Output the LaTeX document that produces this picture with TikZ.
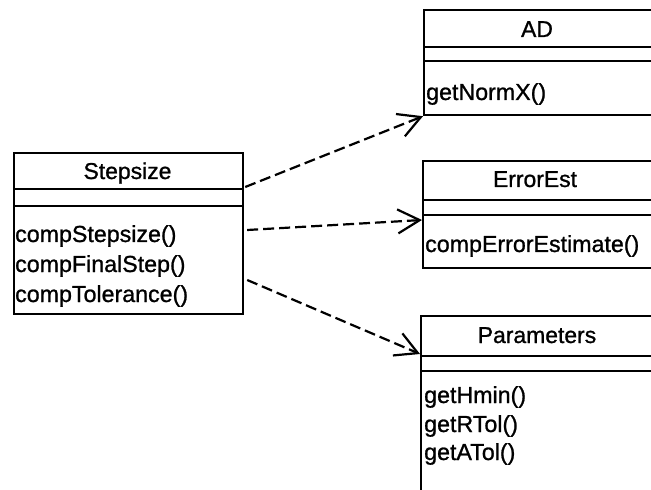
\documentclass[tikz,border=0pt]{standalone}
\usepackage{fontspec}
\setmainfont{Liberation Sans}[FakeBold=1.0]
\usetikzlibrary{arrows.meta,calc}
\begin{document}
\begin{tikzpicture}[x=1bp,y=-1bp,
  classbox/.style={draw, line width=2.2bp, rectangle, anchor=north west, inner sep=0pt},
  divider/.style={line width=2.2bp},
  title/.style={anchor=base, inner sep=0pt, font=\fontsize{23}{27}\selectfont},
  member/.style={anchor=base west, inner sep=0pt, font=\fontsize{23.3}{27}\selectfont},
  dep/.style={line width=2.2bp, dash pattern=on 11bp off 5bp,
    -{Straight Barb[length=22bp,width=24bp,line width=2.2bp]}}]
\useasboundingbox (0,0) rectangle (651,490);
\clip (0,0) rectangle (651,490);

% class boxes
\node[classbox, minimum width=229bp, minimum height=161bp] (stepsize) at (13,152) {};
\node[classbox, minimum width=231bp, minimum height=105bp] (ad) at (423,9) {};
\node[classbox, minimum width=232bp, minimum height=107bp] (errest) at (422,160) {};
\node[classbox, minimum width=234bp, minimum height=190bp] (params) at (420,315) {};

% compartment dividers
\draw[divider] ($(stepsize.north west)+(0,37)$) -- ($(stepsize.north east)+(0,37)$);
\draw[divider] ($(stepsize.north west)+(0,54)$) -- ($(stepsize.north east)+(0,54)$);
\draw[divider] ($(ad.north west)+(0,38)$) -- ($(ad.north east)+(0,38)$);
\draw[divider] ($(ad.north west)+(0,52)$) -- ($(ad.north east)+(0,52)$);
\draw[divider] ($(errest.north west)+(0,40)$) -- ($(errest.north east)+(0,40)$);
\draw[divider] ($(errest.north west)+(0,55)$) -- ($(errest.north east)+(0,55)$);
\draw[divider] ($(params.north west)+(0,41)$) -- ($(params.north east)+(0,41)$);
\draw[divider] ($(params.north west)+(0,56)$) -- ($(params.north east)+(0,56)$);

% class names
\node[title] (tStep) at (127.5,179) {Stepsize};
\node[title] (tAD) at (537,37) {AD};
\node[title] (tErr) at (535,187) {ErrorEst};
\node[title] (tPar) at (537,343) {Parameters};

% operations
\node[member] (m1) at (15,242) {compStepsize()};
\node[member] (m2) at (15,272) {compFinalStep()};
\node[member] (m3) at (15,302) {compTolerance()};
\node[member] (m4) at (426,100) {getNormX()};
\node[member] (m5) at (425,252) {compErrorEstimate()};
\node[member] (m6) at (424,403) {getHmin()};
\node[member] (m7) at (424,432) {getRTol()};
\node[member] (m8) at (424,460) {getATol()};

% dependency ends
\coordinate (s1) at ($(stepsize.north east)+(1,35)$);
\coordinate (s2) at ($(stepsize.north east)+(3,78)$);
\coordinate (s3) at ($(stepsize.north east)+(3,128)$);
\coordinate (e2) at ($(errest.north west)+(0,60)$);
\coordinate (e3) at ($(params.north west)+(0,39)$);

% dependencies
\draw[dep] (s1) -- (ad.south west);
\draw[dep] (s2) -- (e2);
\draw[dep] (s3) -- (e3);
\end{tikzpicture}
\end{document}
